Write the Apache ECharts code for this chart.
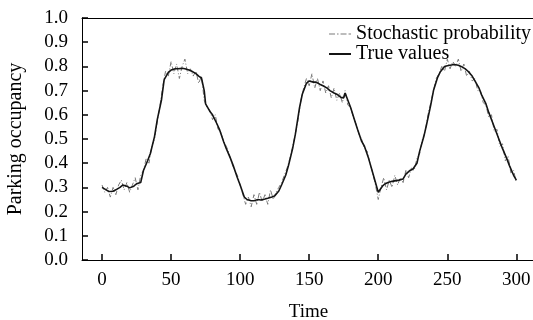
<!DOCTYPE html>
<html>
<head>
<meta charset="utf-8">
<script src="https://cdn.jsdelivr.net/npm/echarts@6/dist/echarts.min.js"></script>
<style>html,body{margin:0;padding:0;background:#fff}#c{width:533px;height:320px}</style>
</head>
<body>
<div id="c"></div>
<script>
const xTicks = [0, 50, 100, 150, 200, 250, 300];
const seriesNames = ["Stochastic probability", "True values"];

const trueTime = [0,3,5,8,10,13,15,18,20,23,25,28,30,33,35,38,40,43,45,48,50,53,55,58,60,63,65,68,70,72,74,75,78,80,83,85,88,90,93,95,98,100,103,105,108,110,113,115,118,120,123,125,128,130,133,135,138,140,143,145,148,150,153,155,158,160,163,165,168,170,173,175,176,178,180,183,185,188,190,193,195,198,200,203,205,208,210,213,215,218,220,223,225,228,230,233,235,238,240,243,245,248,250,253,255,258,260,263,265,268,270,273,275,278,280,283,285,288,290,293,295,298,300];
const trueValues = [0.30,0.29,0.283,0.284,0.29,0.30,0.31,0.305,0.298,0.305,0.315,0.32,0.37,0.41,0.44,0.51,0.58,0.66,0.745,0.775,0.785,0.79,0.79,0.792,0.79,0.785,0.78,0.77,0.76,0.752,0.70,0.645,0.615,0.60,0.565,0.54,0.49,0.46,0.42,0.39,0.34,0.31,0.26,0.25,0.245,0.245,0.25,0.248,0.252,0.255,0.26,0.265,0.285,0.31,0.35,0.39,0.46,0.52,0.63,0.685,0.73,0.74,0.735,0.735,0.725,0.72,0.71,0.70,0.69,0.685,0.672,0.67,0.69,0.66,0.63,0.575,0.54,0.49,0.47,0.42,0.38,0.32,0.28,0.305,0.315,0.322,0.325,0.328,0.33,0.335,0.355,0.37,0.375,0.40,0.45,0.51,0.56,0.64,0.70,0.755,0.778,0.80,0.803,0.806,0.808,0.805,0.80,0.79,0.78,0.76,0.74,0.71,0.68,0.645,0.61,0.565,0.535,0.49,0.46,0.42,0.39,0.35,0.33];

const stochTime = [0,2,4,6,8,10,12,14,16,18,20,22,24,26,28,30,32,34,36,38,40,42,44,46,48,50,52,54,56,58,60,62,64,66,68,70,72,74,76,78,80,82,84,86,88,90,92,94,96,98,100,102,104,106,108,110,112,114,116,118,120,122,124,126,128,130,132,134,136,138,140,142,144,146,148,150,152,154,156,158,160,162,164,166,168,170,172,174,176,178,180,182,184,186,188,190,192,194,196,198,200,202,204,206,208,210,212,214,216,218,220,222,224,226,228,230,232,234,236,238,240,242,244,246,248,250,252,254,256,258,260,262,264,266,268,270,272,274,276,278,280,282,284,286,288,290,292,294,296,298,300];
const stochValues = [0.31,0.28,0.30,0.26,0.30,0.27,0.31,0.33,0.29,0.32,0.28,0.31,0.34,0.29,0.35,0.37,0.42,0.40,0.47,0.50,0.57,0.64,0.72,0.78,0.76,0.82,0.77,0.81,0.75,0.80,0.83,0.77,0.79,0.76,0.78,0.73,0.76,0.66,0.63,0.62,0.58,0.60,0.54,0.53,0.49,0.47,0.44,0.40,0.37,0.35,0.31,0.27,0.23,0.26,0.22,0.27,0.23,0.28,0.24,0.27,0.23,0.29,0.25,0.28,0.30,0.32,0.35,0.38,0.42,0.47,0.52,0.58,0.66,0.71,0.75,0.72,0.77,0.71,0.75,0.70,0.74,0.69,0.72,0.67,0.71,0.66,0.69,0.65,0.70,0.64,0.63,0.59,0.56,0.52,0.50,0.46,0.45,0.40,0.36,0.31,0.25,0.30,0.34,0.29,0.33,0.30,0.35,0.31,0.34,0.32,0.37,0.34,0.38,0.37,0.42,0.44,0.50,0.53,0.60,0.65,0.70,0.75,0.77,0.80,0.78,0.83,0.79,0.82,0.80,0.83,0.78,0.81,0.76,0.78,0.74,0.75,0.70,0.70,0.65,0.64,0.59,0.60,0.53,0.54,0.47,0.48,0.41,0.43,0.36,0.37,0.32];

const FONT = '"Liberation Serif", "Times New Roman", serif';
const GRAY = '#7a7a7a';
const BLACK = '#141414';
const chart = echarts.init(document.getElementById('c'), null, {renderer: 'canvas'});
chart.setOption({
  animation: false,
  grid: {left: 82, top: 18, right: -2, bottom: 60, outerBoundsMode: 'none'},
  legend: {
    orient: 'vertical', right: -3, top: 19, itemGap: 0, itemWidth: 22, itemHeight: 2,
    textStyle: {fontFamily: FONT, fontSize: 20, color: '#000'},
    data: [
      {name: seriesNames[0], icon: 'path://M0,0h6v1h-6z M8,0h1.5v1h-1.5z M11.5,0h6v1h-6z M19.5,0h2.5v1h-2.5z', itemStyle: {color: GRAY}},
      {name: seriesNames[1], icon: 'rect', itemStyle: {color: BLACK}}
    ]
  },
  xAxis: [{
    type: 'value', min: -14.5, max: 313.5,
    name: 'Time', nameLocation: 'middle', nameGap: 43,
    nameTextStyle: {fontFamily: FONT, fontSize: 19, color: '#000'},
    axisLine: {show: true, onZero: false, lineStyle: {color: '#000', width: 1}},
    axisTick: {show: true, inside: true, length: 6, customValues: xTicks, lineStyle: {color: '#000', width: 1.5}},
    axisLabel: {customValues: xTicks, fontFamily: FONT, fontSize: 19, color: '#000', margin: 11},
    splitLine: {show: false}
  }, {
    type: 'value', position: 'top', min: -14.5, max: 313.5,
    axisLine: {show: true, onZero: false, lineStyle: {color: '#000', width: 1}},
    axisTick: {show: false}, axisLabel: {show: false}, splitLine: {show: false}
  }],
  yAxis: {
    type: 'value', min: 0, max: 1, interval: 0.1,
    name: 'Parking occupancy', nameLocation: 'middle', nameGap: 56,
    nameTextStyle: {fontFamily: FONT, fontSize: 20, color: '#000'},
    axisLine: {show: true, onZero: false, lineStyle: {color: '#000', width: 1}},
    axisTick: {show: true, inside: true, length: 6, lineStyle: {color: '#000', width: 1.5}},
    axisLabel: {fontFamily: FONT, fontSize: 19, color: '#000', margin: 14,
      formatter: v => v.toFixed(1)},
    splitLine: {show: false}
  },
  series: [{
    name: seriesNames[0], type: 'line', symbol: 'none', xAxisIndex: 0,
    data: stochTime.map((t, i) => [t, stochValues[i]]),
    lineStyle: {color: GRAY, width: 1, type: [5, 2, 1, 2]},
    itemStyle: {color: GRAY}
  }, {
    name: seriesNames[1], type: 'line', symbol: 'none', xAxisIndex: 0,
    data: trueTime.map((t, i) => [t, trueValues[i]]),
    lineStyle: {color: BLACK, width: 1.6},
    itemStyle: {color: BLACK}
  }]
});
</script>
</body>
</html>
